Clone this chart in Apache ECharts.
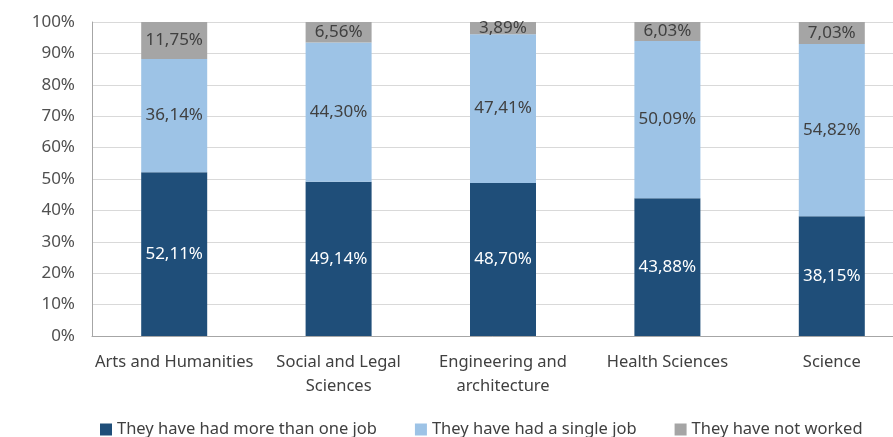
<!DOCTYPE html>
<html>
<head>
<meta charset="utf-8">
<script src="https://cdn.jsdelivr.net/npm/echarts@6/dist/echarts.min.js"></script>
<style>
  html, body { margin: 0; padding: 0; background: #fff; }
  #chart { width: 893px; height: 437px; }
</style>
</head>
<body>
<div id="chart"></div>
<script>
// categories and series values (percent)
var categories = ['Arts and Humanities', 'Social and Legal\nSciences', 'Engineering and\narchitecture', 'Health Sciences', 'Science'];
var moreThanOne = [52.11, 49.14, 48.70, 43.88, 38.15];
var singleJob = [36.14, 44.30, 47.41, 50.09, 54.82];
var notWorked = [11.75, 6.56, 3.89, 6.03, 7.03];
var seriesNames = ['They have had more than one job', 'They have had a single job', 'They have not worked'];

var fontFamily = 'Noto Sans';
var chart = echarts.init(document.getElementById('chart'));

function fmt(p) {
  return p.value.toFixed(2).replace('.', ',') + '%';
}

function barSeries(name, data, color, labelColor) {
  return {
    name: name,
    type: 'bar',
    stack: 'total',
    barWidth: 66,
    data: data,
    itemStyle: { color: color },
    label: {
      show: true,
      position: 'inside',
      color: labelColor,
      fontSize: 17,
      fontFamily: fontFamily,
      formatter: fmt
    }
  };
}

var option = {
  animation: false,
  // the plot runs past the right edge in the original, so let it
  grid: { left: 92, right: -21, top: 22, bottom: 101, outerBoundsMode: 'none' },
  legend: {
    bottom: -6,
    left: 95,
    itemGap: 38,
    itemWidth: 12,
    itemHeight: 12,
    icon: 'rect',
    textStyle: { color: '#404040', fontSize: 16.5, fontFamily: fontFamily },
    data: seriesNames
  },
  xAxis: {
    type: 'category',
    data: categories,
    axisLine: { lineStyle: { color: '#a6a6a6' } },
    axisTick: { show: false },
    axisLabel: { color: '#404040', fontSize: 16.5, fontFamily: fontFamily, margin: 14, lineHeight: 24, interval: 0 }
  },
  yAxis: {
    type: 'value',
    min: 0,
    max: 100,
    interval: 10,
    axisLine: { show: true, lineStyle: { color: '#a6a6a6' } },
    axisTick: { show: false },
    splitLine: { lineStyle: { color: '#d9d9d9' } },
    axisLabel: { color: '#505050', fontSize: 17, fontFamily: fontFamily, margin: 17, formatter: '{value}%' }
  },
  series: [
    barSeries(seriesNames[0], moreThanOne, '#1f4e79', '#ffffff'),
    barSeries(seriesNames[1], singleJob, '#9dc3e6', '#404040'),
    barSeries(seriesNames[2], notWorked, '#a5a5a5', '#404040')
  ]
};

chart.setOption(option);
</script>
</body>
</html>
